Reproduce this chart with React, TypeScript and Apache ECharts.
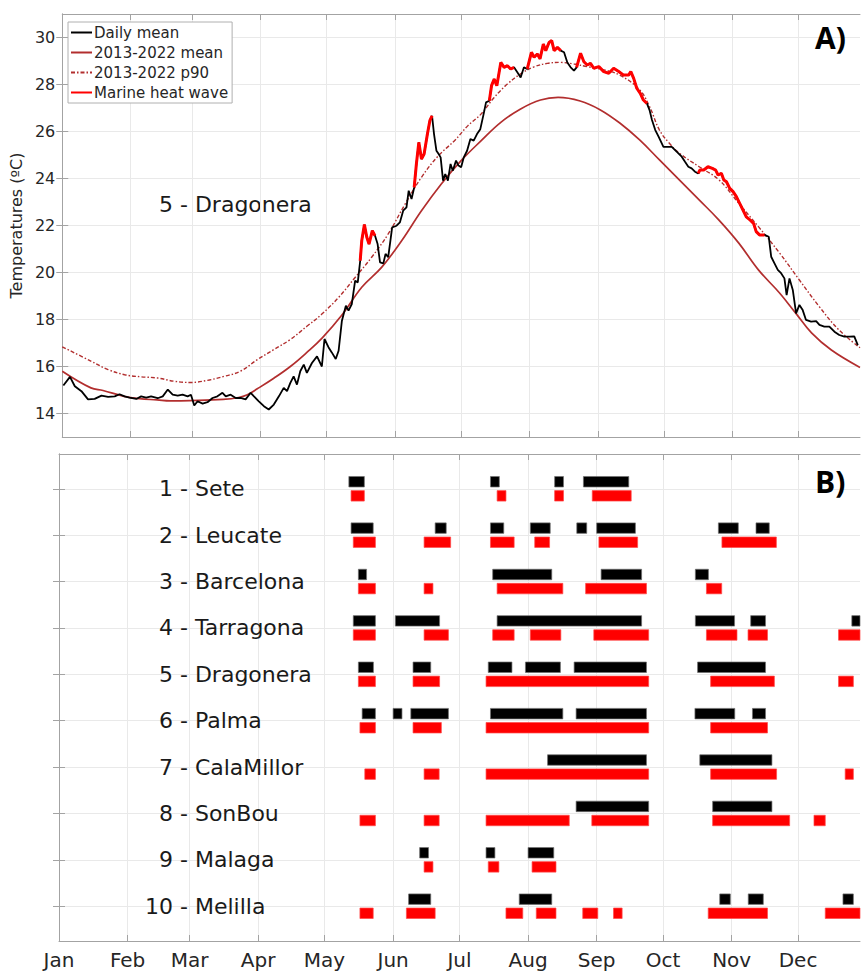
import React, { useEffect, useRef } from "react";
import * as echarts from "echarts";

const FONT = "DejaVu Sans";

const monthNames = ["Jan", "Feb", "Mar", "Apr", "May", "Jun", "Jul", "Aug", "Sep", "Oct", "Nov", "Dec"];
const monthStarts = [0, 31, 59, 90, 120, 151, 181, 212, 243, 273, 304, 334];
const tempTicks = [14, 16, 18, 20, 22, 24, 26, 28, 30];
const stationTicks = [1, 2, 3, 4, 5, 6, 7, 8, 9, 10];
const stationNames = ["Sete", "Leucate", "Barcelona", "Tarragona", "Dragonera", "Palma", "CalaMillor", "SonBou", "Malaga", "Melilla"];
const featuredStation = 5;

// [day of year, °C]
const dailyMean: [number, number][] = [
  [0.5, 15.19], [3.5, 15.56], [5.7, 15.16], [8.7, 14.95], [11.7, 14.6], [14.7, 14.62], [17.8, 14.76], [20.8, 14.71],
  [23.8, 14.73], [26, 14.82], [28.3, 14.73], [30.5, 14.68], [33.6, 14.62], [35.8, 14.73], [38.1, 14.68], [40.3, 14.73],
  [43.3, 14.65], [45.6, 14.73], [47.9, 15.02], [50.1, 14.8], [52.4, 14.76], [54.6, 14.8], [56.9, 14.73], [58.4, 14.8],
  [59.9, 14.34], [61.4, 14.52], [63.7, 14.42], [65.9, 14.48], [68.2, 14.66], [70.4, 14.73], [72.7, 14.88], [74.2, 14.73],
  [76.4, 14.8], [78.7, 14.66], [80.9, 14.66], [83.2, 14.6], [85.5, 14.88], [87, 14.73], [89.2, 14.52], [91.5, 14.31],
  [93.7, 14.17], [96, 14.38], [98.3, 14.73], [100.5, 15.09], [102, 14.95], [103.5, 15.3], [105, 15.58], [106.5, 15.23],
  [108, 15.8], [109.6, 16.08], [111, 15.73], [113.3, 16.15], [115.6, 16.43], [117.8, 16.0],
  [119, 17.17], [120.8, 16.82], [122.3, 16.6], [124.1, 16.32], [125.4, 16.67], [126.9, 17.95], [128.7, 18.59], [129.9, 18.38],
  [131.4, 18.66], [132.9, 19.65], [134.1, 19.58], [135.2, 20.5], [135.9, 21.35], [137.1, 22.04], [138.2, 21.5], [139.2, 21.21],
  [140.7, 21.78], [141.9, 21.57], [143.1, 21.21], [144.2, 20.43], [145.7, 20.39], [146.7, 20.79], [147.9, 20.65], [148.7, 21.21],
  [149.7, 21.92], [151.7, 21.99], [153.2, 22.13], [154.7, 22.63], [156.2, 22.77], [157.2, 23.48], [158.5, 23.13], [159.7, 23.62],
  [160.7, 24.62], [161.8, 25.54], [163, 24.83], [164.2, 25.04], [165.7, 25.89], [166.8, 26.46], [167.8, 26.67], [168.7, 25.89],
  [169.8, 25.18], [170.8, 25.04], [171.7, 24.9], [172.8, 23.91], [173.8, 24.19], [175, 23.91], [176.2, 24.62], [177.2, 24.33],
  [178.7, 24.76], [179.8, 24.55], [181, 24.48], [182.2, 24.9], [183.7, 25.18], [185.2, 25.68], [186.7, 25.61], [188.2, 25.89],
  [189.7, 26.1], [191.2, 26.74], [192.3, 27.24], [193.8, 27.31], [194.8, 27.95], [196, 28.23], [197.2, 27.95], [199, 28.94],
  [200.5, 28.73], [202, 28.8], [203.5, 28.66], [205, 28.73], [206.5, 28.52], [208, 28.3], [209.5, 28.73], [211, 28.66],
  [212.9, 29.37], [214.1, 29.16], [215.6, 29.3], [216.8, 29.09], [218.3, 29.72], [219.4, 29.44], [220.9, 29.79], [222.1, 29.87],
  [223.2, 29.44], [224.7, 29.58], [226.2, 29.44], [227.7, 29.37], [229.2, 28.94], [230.7, 28.73], [232.2, 28.59], [233.4, 28.73],
  [235.2, 29.33], [236.7, 28.97], [238.2, 28.83], [239.7, 28.9], [241.2, 28.69], [243.5, 28.76], [245.7, 28.55], [248, 28.48],
  [250.2, 28.69], [252.5, 28.55], [254.7, 28.4], [257, 28.4], [258, 28.55], [259.3, 28.26], [260.7, 27.84], [262.3, 27.62],
  [263.7, 27.34], [265.3, 27.2], [266.5, 26.91], [267.6, 26.49], [269.1, 26.06], [270.6, 25.78], [272.8, 25.35], [274.7, 25.35],
  [276.6, 25.35], [278.1, 25.21], [279.6, 25.07], [281.1, 24.93], [282.6, 24.71], [284.1, 24.5], [285.6, 24.43], [287.1, 24.29],
  [288.6, 24.22], [289.3, 24.36], [291.1, 24.36], [293, 24.5], [295, 24.43], [296.5, 24.36], [297.6, 24.15], [299.1, 24.22],
  [300.2, 23.94], [301.4, 23.86], [302.9, 23.58], [304.4, 23.44], [305.9, 23.23], [307.4, 22.94], [308.9, 22.66], [310.4, 22.37],
  [312.2, 22.23], [313.7, 22.09], [314.9, 21.74], [316.4, 21.6], [318.7, 21.6], [320.6, 21.52], [321.7, 20.67], [323.2, 20.39],
  [324.7, 20.11], [326.2, 19.97], [327.7, 19.75], [328.7, 19.04], [330, 19.75], [331.5, 19.26], [333, 18.26], [334.5, 18.62],
  [336, 18.4], [337.5, 17.98], [339.8, 17.91], [342.1, 17.93], [343.6, 17.77], [345.8, 17.7], [348.1, 17.7], [350.4, 17.48],
  [352.6, 17.34], [354.9, 17.27], [357.2, 17.27], [359.4, 17.28], [361, 16.91],
];

const climMean: [number, number][] = [
  [0, 15.8], [13, 15.09], [18.5, 14.98], [28, 14.73], [35, 14.63], [43, 14.58], [49, 14.54], [58, 14.55], [73, 14.6],
  [80, 14.68], [84, 14.8], [88.5, 15.05], [96, 15.5], [103.5, 16.0], [111, 16.6], [118, 17.22], [127, 18.2], [136, 19.38],
  [145, 20.23], [154, 21.35], [163, 22.63], [172, 23.77], [181, 24.76], [190, 25.6], [199, 26.39], [208, 26.96], [217, 27.34],
  [225, 27.45], [235, 27.3], [244, 26.93], [253, 26.36], [262, 25.64], [271, 24.79], [280, 23.94], [289, 23.09], [298, 22.23],
  [307, 21.25], [316, 20.1], [325.5, 19.13], [333, 18.25], [340, 17.43], [349, 16.7], [362, 15.96],
];

const climP90: [number, number][] = [
  [0, 16.84], [13.2, 16.22], [20.8, 15.87], [28.3, 15.65], [35.8, 15.56], [43.3, 15.51], [50.9, 15.37], [58.4, 15.32],
  [65.9, 15.41], [73.4, 15.58], [80.9, 15.8], [88.5, 16.29], [96, 16.72], [103.5, 17.15], [111, 17.71], [117.8, 18.23],
  [125.4, 18.94], [132.9, 19.79], [140.4, 20.65], [147.9, 21.64], [155.5, 22.9], [163, 24.05], [170.5, 24.95], [178, 25.61],
  [184.1, 26.25], [190, 26.74], [196, 27.45], [202, 28.02], [208, 28.45], [214.1, 28.75], [220.1, 28.9], [226.2, 28.94],
  [232.2, 28.87], [238.2, 28.76], [244.2, 28.66], [253, 28.4], [262, 27.77], [266.5, 27.06], [271, 26.06], [275.5, 25.5],
  [280, 25.08], [289, 24.5], [298, 23.94], [307, 22.94], [316, 21.94], [325.5, 20.83], [334.5, 19.68], [343.5, 18.55],
  [352.5, 17.55], [362, 16.8],
];

// [station, start day, end day]
const blackEvents: [number, number, number][] = [
  [1, 131, 138], [1, 195, 199], [1, 224, 228], [1, 237, 257.5],
  [2, 132, 142], [2, 170, 175], [2, 195, 201], [2, 213, 222], [2, 234, 238.5], [2, 243, 260.5], [2, 298, 307], [2, 315, 321],
  [3, 135.3, 139], [3, 196, 222.7], [3, 245, 263.3], [3, 287.6, 293.5],
  [4, 133, 143], [4, 152, 172], [4, 198, 263.3], [4, 287.6, 305.3], [4, 312.6, 319.3], [4, 358.3, 365],
  [5, 135.3, 142.1], [5, 160, 168], [5, 194, 204.7], [5, 210.8, 226.6], [5, 232.8, 265.5], [5, 288.6, 319.3],
  [6, 137, 143], [6, 151, 155], [6, 159, 176], [6, 195, 227.7], [6, 233.7, 265.5], [6, 287.4, 305.4], [6, 313.4, 319.3],
  [7, 220.8, 265.5], [7, 289.6, 322.2],
  [8, 233.7, 266.5], [8, 295.4, 322.2],
  [9, 163, 167], [9, 193, 197], [9, 212, 223.6],
  [10, 158, 168], [10, 208, 222.7], [10, 298.6, 303.4], [10, 311.5, 318.3], [10, 354.3, 359],
];

const redEvents: [number, number, number][] = [
  [1, 132, 138], [1, 198, 202], [1, 224, 228], [1, 241, 258.6],
  [2, 133, 143], [2, 165, 177], [2, 195, 205.7], [2, 215, 221.7], [2, 244, 261.5], [2, 299.6, 324.2],
  [3, 135.3, 143], [3, 165, 169], [3, 198, 227.7], [3, 238, 265.5], [3, 292.6, 299.5],
  [4, 133, 143], [4, 165, 176], [4, 196, 205.7], [4, 213, 226.8], [4, 241.7, 266.5], [4, 292.6, 306.4], [4, 311.4, 320.2], [4, 352.3, 365],
  [5, 135.3, 143], [5, 160, 172], [5, 193, 266.5], [5, 294.5, 323.3], [5, 352.3, 359],
  [6, 136, 143], [6, 160, 172.8], [6, 193, 266.5], [6, 294.5, 320.2],
  [7, 138.2, 143], [7, 165, 171.8], [7, 193, 266.5], [7, 294.5, 324.3], [7, 355.3, 359],
  [8, 136, 143], [8, 165, 171.8], [8, 193, 230.6], [8, 240.8, 266.5], [8, 295.4, 330.2], [8, 341.2, 346.3],
  [9, 165, 169], [9, 194, 198.8], [9, 213.8, 224.6],
  [10, 136, 142], [10, 157, 170], [10, 202, 209.6], [10, 215.7, 224.6], [10, 236.7, 243.5], [10, 250.6, 254.5], [10, 293.4, 320.2], [10, 346.3, 365],
];

const AXIS_COLOR = "#a3a3a3";
const GRID_COLOR = "#e9e9e9";
const TEXT_COLOR = "#262626";
const CLIM_COLOR = "#b22e2e";

// station label: number padded with a figure space so the dashes line up
const stationLabel = (n: number) => `${n < 10 ? "\u2007" : ""}${n} - ${stationNames[n - 1]}`;

function buildOption() {
  // Marine heat wave line: the daily mean within the featured station's events
  const mhwLine: (number | null)[][] = [];
  blackEvents
    .filter((ev) => ev[0] === featuredStation)
    .forEach((ev, i) => {
      if (i > 0) mhwLine.push([ev[1] - 0.5, null]);
      dailyMean.forEach((p) => {
        if (p[0] >= ev[1] - 0.6 && p[0] <= ev[2] + 0.6) mhwLine.push([p[0], p[1]]);
      });
    });

  const barData = [
    ...blackEvents.map((e) => [e[1], e[2], e[0], 0]),
    ...redEvents.map((e) => [e[1], e[2], e[0], 1]),
  ];

  const tickStyle = { show: true, inside: true, length: 6, lineStyle: { color: AXIS_COLOR } };
  const lineStyleAxis = { show: true, lineStyle: { color: AXIS_COLOR, width: 1 } };

  const xAxisBase = (gridIndex: number, position: string, labels: boolean, split: boolean) => ({
    type: "value",
    gridIndex,
    position,
    min: 0,
    max: 362,
    axisLine: lineStyleAxis,
    axisTick: { ...tickStyle, customValues: monthStarts },
    axisLabel: labels
      ? {
          show: true,
          customValues: monthStarts,
          fontSize: 20,
          color: TEXT_COLOR,
          fontFamily: FONT,
          margin: 9,
          formatter: (v: number) => monthNames[monthStarts.indexOf(Math.round(v))] || "",
        }
      : { show: false, customValues: monthStarts },
    splitLine: { show: split, lineStyle: { color: GRID_COLOR, width: 1 } },
  });

  const panelTag = (text: string, top: number) => ({
    text,
    left: 815,
    top,
    padding: 0,
    textStyle: { fontSize: 30, fontWeight: "bold", fontFamily: "Open Sans", color: "#000000" },
  });

  return {
    animation: false,
    backgroundColor: "#ffffff",
    textStyle: { fontFamily: FONT },
    title: [panelTag("A)", 22), panelTag("B)", 466)],
    grid: [
      { left: 59, right: 1, top: 14, height: 423 },
      { left: 59, right: 1, top: 454, height: 487 },
    ],
    legend: {
      data: ["Daily mean", "2013-2022 mean", "2013-2022 p90", "Marine heat wave"],
      orient: "vertical",
      left: 68,
      top: 22,
      itemWidth: 21,
      itemHeight: 14,
      itemGap: 5,
      padding: [3, 4, 3, 2],
      borderColor: "#b0b0b0",
      borderWidth: 1,
      backgroundColor: "#ffffff",
      itemStyle: { opacity: 0 },
      textStyle: { fontSize: 15, color: TEXT_COLOR, fontFamily: FONT, padding: [0, 0, 0, -3] },
      selectedMode: false,
    },
    xAxis: [
      xAxisBase(0, "bottom", false, true),
      xAxisBase(0, "top", false, false),
      xAxisBase(1, "bottom", true, true),
      xAxisBase(1, "top", false, false),
    ],
    yAxis: [
      {
        type: "value",
        gridIndex: 0,
        position: "left",
        min: 13,
        max: 31,
        axisLine: lineStyleAxis,
        axisTick: { ...tickStyle, customValues: tempTicks },
        axisLabel: { customValues: tempTicks, fontSize: 16, color: TEXT_COLOR, fontFamily: FONT, margin: 7 },
        splitLine: { show: true, lineStyle: { color: GRID_COLOR, width: 1 } },
        name: "Temperatures (ºC)",
        nameLocation: "middle",
        nameGap: 33,
        nameTextStyle: { fontSize: 16, color: TEXT_COLOR, fontFamily: FONT },
      },
      {
        type: "value",
        gridIndex: 0,
        position: "right",
        min: 13,
        max: 31,
        axisLine: lineStyleAxis,
        axisTick: { ...tickStyle, customValues: tempTicks },
        axisLabel: { show: false, customValues: tempTicks },
        splitLine: { show: false },
      },
      {
        type: "value",
        gridIndex: 1,
        position: "left",
        min: 0.25,
        max: 10.75,
        inverse: true,
        axisLine: lineStyleAxis,
        axisTick: { ...tickStyle, customValues: stationTicks },
        axisLabel: {
          customValues: stationTicks,
          inside: true,
          margin: 86,
          fontSize: 22,
          color: "#1a1a1a",
          fontFamily: FONT,
          formatter: (v: number) => stationLabel(Math.round(v)),
        },
        splitLine: { show: true, lineStyle: { color: GRID_COLOR, width: 1 } },
      },
      {
        type: "value",
        gridIndex: 1,
        position: "right",
        min: 0.25,
        max: 10.75,
        inverse: true,
        axisLine: lineStyleAxis,
        axisTick: { ...tickStyle, customValues: stationTicks },
        axisLabel: { show: false, customValues: stationTicks },
        splitLine: { show: false },
      },
    ],
    series: [
      {
        name: "2013-2022 mean",
        type: "line",
        xAxisIndex: 0,
        yAxisIndex: 0,
        data: climMean,
        smooth: 0.4,
        symbol: "none",
        lineStyle: { color: CLIM_COLOR, width: 1.7 },
        itemStyle: { color: CLIM_COLOR },
        z: 2,
      },
      {
        name: "2013-2022 p90",
        type: "line",
        xAxisIndex: 0,
        yAxisIndex: 0,
        data: climP90,
        smooth: 0.4,
        symbol: "none",
        lineStyle: { color: CLIM_COLOR, width: 1.4, type: [4, 2, 1.5, 2] },
        itemStyle: { color: CLIM_COLOR },
        z: 2,
      },
      {
        name: "Daily mean",
        type: "line",
        xAxisIndex: 0,
        yAxisIndex: 0,
        data: dailyMean,
        symbol: "none",
        lineStyle: { color: "#000000", width: 1.8 },
        itemStyle: { color: "#000000" },
        z: 3,
      },
      {
        name: "Marine heat wave",
        type: "line",
        xAxisIndex: 0,
        yAxisIndex: 0,
        data: mhwLine,
        connectNulls: false,
        symbol: "none",
        lineStyle: { color: "#ff0000", width: 3 },
        itemStyle: { color: "#ff0000" },
        z: 4,
      },
      {
        type: "custom",
        xAxisIndex: 2,
        yAxisIndex: 2,
        data: barData,
        encode: { x: [0, 1], y: 2 },
        renderItem: (params: any, api: any) => {
          const s = api.value(0);
          const e = api.value(1);
          const st = api.value(2);
          const k = api.value(3);
          const yc = st + (k === 0 ? -0.152 : 0.152);
          const a = api.coord([s, yc - 0.113]);
          const b = api.coord([e, yc + 0.113]);
          const cs = params.coordSys;
          const shape = echarts.graphic.clipRectByRect(
            { x: a[0], y: Math.min(a[1], b[1]), width: b[0] - a[0], height: Math.abs(b[1] - a[1]) },
            { x: cs.x, y: cs.y, width: cs.width, height: cs.height }
          );
          if (!shape) return null;
          return {
            type: "rect",
            shape,
            style: {
              fill: k === 0 ? "#000000" : "#ff0000",
              stroke: k === 0 ? "#707070" : "#ff4a4a",
              lineWidth: 0.7,
            },
          };
        },
        z: 3,
      },
    ],
    graphic: [
      {
        type: "text",
        left: 145,
        top: 193,
        style: { text: stationLabel(featuredStation), fontSize: 22, fontFamily: FONT, fill: "#1a1a1a" },
      },
    ],
  };
}

export default function App() {
  const ref = useRef<HTMLDivElement>(null);
  useEffect(() => {
    if (!ref.current) return;
    const chart = echarts.init(ref.current, null, { renderer: "svg" });
    chart.setOption(buildOption() as any);
    return () => chart.dispose();
  }, []);
  return (
    <div
      ref={ref}
      style={{ position: "fixed", left: 0, top: 0, width: 861, height: 973, background: "#ffffff" }}
    />
  );
}
